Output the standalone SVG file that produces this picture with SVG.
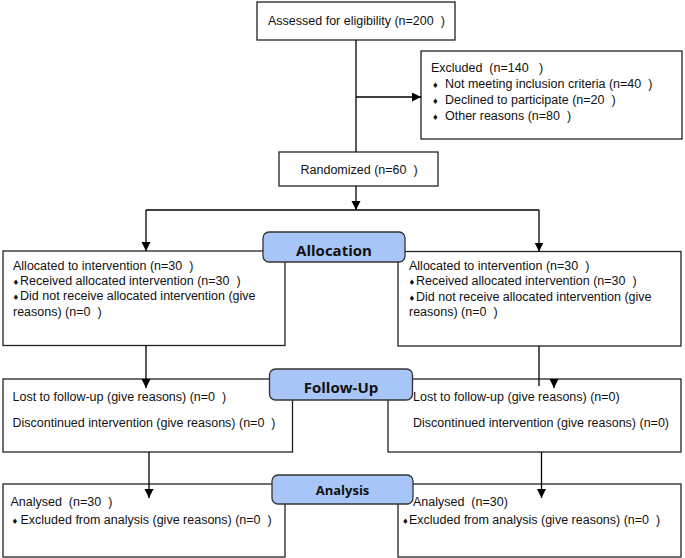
<svg xmlns="http://www.w3.org/2000/svg" width="685" height="558" viewBox="0 0 685 558">
<defs>
<marker id="ah" markerUnits="userSpaceOnUse" markerWidth="10" markerHeight="10" refX="9" refY="4.5" orient="auto">
<path d="M0,0 L9,4.5 L0,9 Z" fill="#000"/>
</marker>
<style>
.box{fill:#fff;stroke:#222;stroke-width:1.3}
.lbl{fill:#a7c5f6;stroke:#333;stroke-width:1.3}
.t{font-family:"Liberation Sans",Arial,sans-serif;font-size:12.5px;fill:#111}
.b{font-family:"DejaVu Sans",sans-serif;font-size:7.5px}
.h{font-family:"Open Sans",sans-serif;font-weight:bold;font-size:15px;fill:#111;text-anchor:middle}
.c{fill:none;stroke:#000;stroke-width:1.3}
</style>
</defs>
<rect width="685" height="558" fill="#fff"/>
<g id="assessed">
<rect class="box" x="257" y="2" width="198" height="38"/>
<text class="t" x="268" y="25" xml:space="preserve">Assessed for eligibility (n=200  )</text>
</g>
<g id="excluded">
<rect class="box" x="421" y="51" width="261" height="88"/>
<text class="t" x="431" y="71.5" xml:space="preserve">Excluded  (n=140   )</text>
<text class="t" x="432" y="87.5" xml:space="preserve"><tspan class="b">♦</tspan><tspan x="445">Not meeting inclusion criteria (n=40  )</tspan></text>
<text class="t" x="432" y="103.5" xml:space="preserve"><tspan class="b">♦</tspan><tspan x="445">Declined to participate (n=20  )</tspan></text>
<text class="t" x="432" y="119.5" xml:space="preserve"><tspan class="b">♦</tspan><tspan x="445">Other reasons (n=80  )</tspan></text>
</g>
<g id="randomized">
<rect class="box" x="279" y="152" width="159" height="34"/>
<text class="t" x="300.5" y="174" xml:space="preserve">Randomized (n=60  )</text>
</g>
<g id="alloc-left">
<rect class="box" x="3" y="251" width="282" height="94.5"/>
<text class="t" x="13" y="269.5" xml:space="preserve">Allocated to intervention (n=30  )</text>
<text class="t" x="12.5" y="284.5" xml:space="preserve"><tspan class="b">♦</tspan><tspan x="20">Received allocated intervention (n=30  )</tspan></text>
<text class="t" x="12.5" y="300" xml:space="preserve"><tspan class="b">♦</tspan><tspan x="20">Did not receive allocated intervention (give</tspan></text>
<text class="t" x="13" y="315.5" xml:space="preserve">reasons) (n=0  )</text>
</g>
<g id="alloc-right">
<rect class="box" x="398" y="251.5" width="283" height="94.5"/>
<text class="t" x="409" y="270" xml:space="preserve">Allocated to intervention (n=30  )</text>
<text class="t" x="408.5" y="285" xml:space="preserve"><tspan class="b">♦</tspan><tspan x="416">Received allocated intervention (n=30  )</tspan></text>
<text class="t" x="408.5" y="300.5" xml:space="preserve"><tspan class="b">♦</tspan><tspan x="416">Did not receive allocated intervention (give</tspan></text>
<text class="t" x="409" y="316" xml:space="preserve">reasons) (n=0  )</text>
</g>
<g id="followup-left">
<rect class="box" x="3" y="379" width="289.5" height="73"/>
<text class="t" x="12.5" y="401" xml:space="preserve">Lost to follow-up (give reasons) (n=0  )</text>
<text class="t" x="12.5" y="427" xml:space="preserve">Discontinued intervention (give reasons) (n=0  )</text>
</g>
<g id="followup-right">
<rect class="box" x="388" y="379" width="293" height="73"/>
<text class="t" x="413" y="401" xml:space="preserve">Lost to follow-up (give reasons) (n=0)</text>
<text class="t" x="413" y="427" xml:space="preserve">Discontinued intervention (give reasons) (n=0)</text>
</g>
<g id="analysis-left">
<rect class="box" x="3" y="484" width="282" height="73"/>
<text class="t" x="10.5" y="505.5" xml:space="preserve">Analysed  (n=30  )</text>
<text class="t" x="11.5" y="523.5" xml:space="preserve"><tspan class="b">♦</tspan><tspan x="20.5">Excluded from analysis (give reasons) (n=0  )</tspan></text>
</g>
<g id="analysis-right">
<rect class="box" x="398" y="484" width="283" height="73"/>
<text class="t" x="413" y="505.5" xml:space="preserve">Analysed  (n=30)</text>
<text class="t" x="402" y="523.5" xml:space="preserve"><tspan class="b">♦</tspan><tspan x="409">Excluded from analysis (give reasons) (n=0  )</tspan></text>
</g>
<g id="connectors">
<path class="c" d="M356,40 V152"/>
<path class="c" d="M356,97 H421" marker-end="url(#ah)"/>
<path class="c" d="M356,186 V210" marker-end="url(#ah)"/>
<path class="c" d="M146,210 H539"/>
<path class="c" d="M146,210 V251" marker-end="url(#ah)"/>
<path class="c" d="M539,210 V251.5" marker-end="url(#ah)"/>
<path class="c" d="M146,345.5 V388" marker-end="url(#ah)"/>
<path class="c" d="M539,346 V386"/>
<path class="c" d="M554,383 V388" marker-end="url(#ah)"/>
<path class="c" d="M149,452 V498" marker-end="url(#ah)"/>
<path class="c" d="M541.5,452 V498" marker-end="url(#ah)"/>
</g>
<g id="allocation-label">
<rect class="lbl" x="263" y="232" width="142" height="30" rx="6"/>
<text class="h" x="334" y="255.5">Allocation</text>
</g>
<g id="followup-label">
<rect class="lbl" x="269.5" y="369" width="143" height="31" rx="6"/>
<text class="h" x="341" y="392.5">Follow-Up</text>
</g>
<g id="analysis-label">
<rect class="lbl" x="272" y="475" width="141" height="29" rx="6"/>
<text class="h" x="342.5" y="495" style="font-size:13px">Analysis</text>
</g>
</svg>
